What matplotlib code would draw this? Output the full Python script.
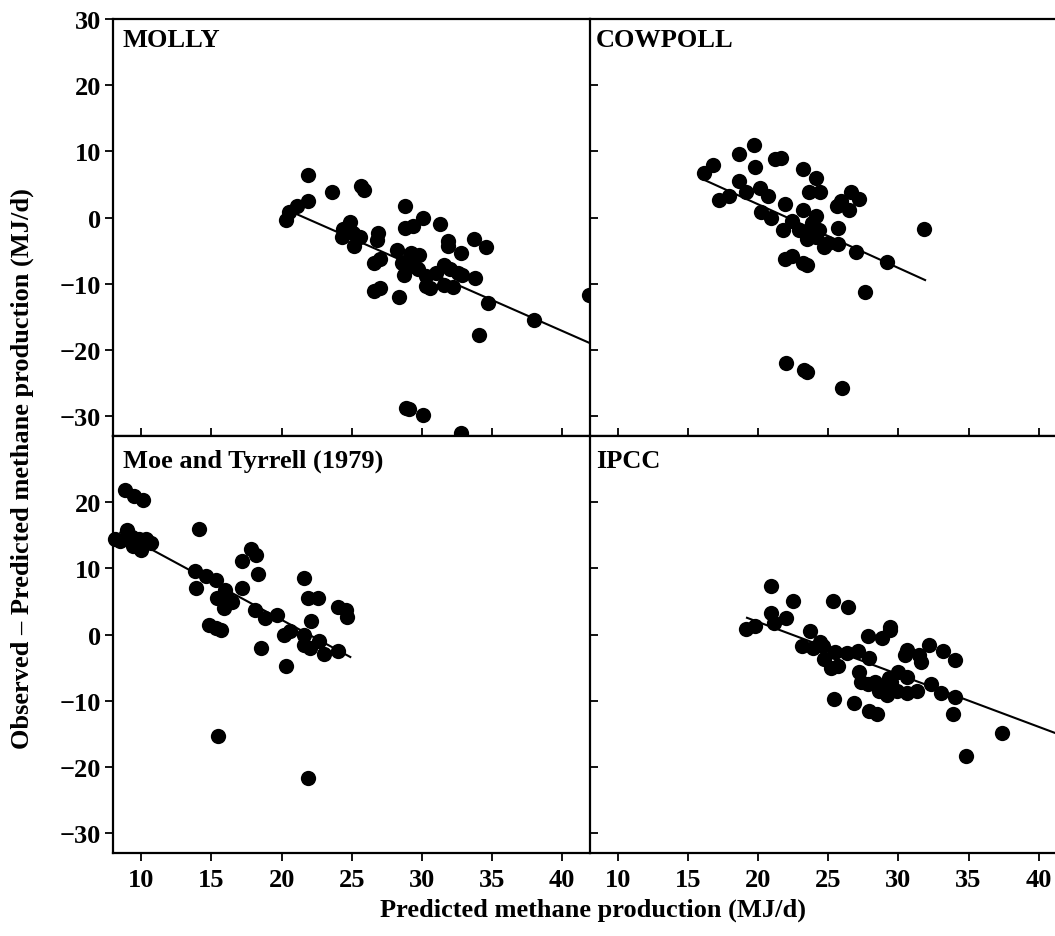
import numpy as np
import matplotlib
matplotlib.use("Agg")
import matplotlib.pyplot as plt

plt.rcParams['font.family'] = ['Liberation Serif', 'DejaVu Serif']
plt.rcParams['font.weight'] = 'bold'
plt.rcParams['font.size'] = 19

# MOLLY
molly_x = [20.3, 20.5, 21.1, 21.9, 21.9, 23.6, 25.7, 25.9, 24.4, 24.9, 24.3, 25.1, 25.6, 25.2,
           26.9, 26.8, 28.8, 28.8, 29.4, 30.1, 31.3, 31.9, 31.9, 32.8, 33.7, 34.6, 28.2, 29.2,
           29.8, 26.6, 27.0, 28.6, 28.7, 29.4, 29.7, 29.1, 30.3, 31.0, 31.6, 32.0, 32.6, 32.9,
           33.8, 30.3, 30.6, 31.6, 32.2, 26.6, 27.0, 28.4, 34.7, 38.0, 41.9, 34.1, 28.9, 29.1,
           30.1, 32.8]
molly_y = [-0.4, 0.8, 1.7, 6.4, 2.5, 3.9, 4.8, 4.2, -1.7, -0.7, -3.0, -2.3, -2.9, -4.3,
           -2.3, -3.4, 1.7, -1.5, -1.2, 0.0, -0.9, -3.5, -4.3, -5.4, -3.2, -4.4, -4.9, -5.3,
           -5.7, -6.8, -6.2, -6.8, -8.6, -7.3, -7.8, -6.3, -8.8, -8.3, -7.1, -7.7, -8.3, -8.7,
           -9.2, -10.3, -10.7, -10.2, -10.5, -11.1, -10.6, -12.0, -12.9, -15.5, -11.7, -17.7,
           -28.7, -28.9, -29.9, -32.6]
molly_fit = (20.17, -0.932, 21.0, 42.0)  # intercept, slope, x from, x to

# COWPOLL
cowpoll_x = [16.1, 16.8, 17.2, 17.9, 18.6, 18.6, 19.1, 19.7, 19.8, 20.1, 20.7, 20.2, 20.9,
             21.2, 21.6, 21.9, 21.8, 22.4, 23.2, 23.2, 23.6, 24.1, 24.4, 24.1, 23.4, 23.5,
             24.1, 24.3, 24.7, 25.0, 25.7, 25.6, 25.9, 26.5, 25.7, 26.6, 27.2, 21.9, 22.4,
             23.2, 23.5, 27.0, 29.2, 27.6, 31.8, 22.0, 23.3, 23.5, 26.0, 22.9, 23.8]
cowpoll_y = [6.7, 7.9, 2.7, 3.2, 9.6, 5.5, 3.9, 10.9, 7.6, 4.4, 3.2, 0.8, 0.0,
             8.9, 9.0, 2.1, -1.8, -0.5, 7.4, 1.2, 3.8, 6.0, 3.9, 0.2, -2.3, -3.2,
             -3.0, -1.8, -4.5, -3.8, -4.0, 1.7, 2.5, 1.1, -1.5, 3.9, 2.8, -6.2, -5.8,
             -6.8, -7.2, -5.2, -6.7, -11.2, -1.7, -21.9, -23.1, -23.4, -25.8, -1.8, -0.8]
cowpoll_fit = (21.22, -0.961, 16.1, 31.9)

# Moe and Tyrrell (1979)
moe_x = [8.1, 8.5, 8.8, 9.5, 10.1, 9.0, 9.3, 9.4, 9.8, 10.0, 10.3, 10.7, 14.1, 13.8, 13.9,
         14.6, 15.3, 16.0, 15.4, 15.9, 16.5, 16.1, 17.2, 17.2, 17.8, 18.2, 18.3, 18.1, 18.8,
         19.7, 14.8, 15.3, 15.7, 18.5, 20.2, 20.6, 20.3, 21.6, 21.9, 22.6, 22.1, 21.6, 21.6,
         22.0, 22.7, 23.0, 24.0, 24.6, 24.7, 24.0, 15.5, 21.9]
moe_y = [14.5, 14.1, 21.8, 21.0, 20.3, 15.8, 14.8, 13.4, 14.5, 12.8, 14.4, 13.9, 16.0, 9.6, 7.0,
         8.9, 8.2, 6.7, 5.5, 4.0, 4.9, 5.5, 11.1, 7.0, 12.9, 12.0, 9.1, 3.7, 2.5,
         2.9, 1.5, 1.0, 0.7, -2.0, -0.1, 0.5, -4.7, 8.5, 5.5, 5.6, 2.0, 0.0, -1.6,
         -2.0, -1.0, -3.0, 4.2, 3.7, 2.7, -2.5, -15.3, -21.6]
moe_fit = (25.15, -1.146, 8.5, 24.9)

# IPCC
ipcc_x = [19.1, 19.8, 20.9, 20.9, 21.1, 22.0, 22.5, 23.7, 23.1, 23.9, 24.4, 24.6, 24.7, 25.3,
          26.4, 25.2, 25.7, 25.5, 26.3, 27.1, 27.8, 27.9, 27.2, 27.3, 27.8, 28.3, 28.8, 29.4,
          29.4, 28.6, 29.0, 29.2, 29.3, 30.0, 29.9, 30.6, 30.6, 30.6, 30.5, 31.5, 31.6, 31.3,
          32.2, 32.3, 33.0, 33.2, 34.0, 34.0, 33.9, 25.4, 26.8, 27.9, 28.5, 37.4, 34.8, 29.5,
          28.5]
ipcc_y = [0.9, 1.3, 7.4, 3.3, 1.8, 2.5, 5.1, 0.5, -1.8, -2.1, -1.1, -1.8, -3.7, 5.0,
          4.2, -5.1, -4.7, -2.6, -2.8, -2.5, -0.2, -3.6, -5.6, -7.1, -7.5, -7.1, -0.5, 1.2,
          0.7, -8.6, -8.1, -9.1, -6.6, -5.6, -8.6, -6.4, -8.9, -2.3, -3.1, -3.1, -4.1, -8.5,
          -1.6, -7.5, -8.9, -2.5, -3.8, -9.4, -12.0, -9.7, -10.4, -11.5, -12.0, -14.8, -18.3,
          -7.1, -7.6]
ipcc_fit = (17.74, -0.792, 19.2, 42.0)

x_ticks = [10, 15, 20, 25, 30, 35, 40]

fig = plt.figure(figsize=(10.55, 9.37), dpi=100)

col_left = [0.1074, 0.5592]
col_w = 0.4519
row_bottom = [0.5336, 0.0886]
row_h = 0.4450

panels = [
    ("MOLLY", molly_x, molly_y, molly_fit, 0, 0),
    ("COWPOLL", cowpoll_x, cowpoll_y, cowpoll_fit, 0, 1),
    ("Moe and Tyrrell (1979)", moe_x, moe_y, moe_fit, 1, 0),
    ("IPCC", ipcc_x, ipcc_y, ipcc_fit, 1, 1),
]

for title, xs, ys, fit, r, c in panels:
    ax = fig.add_axes([col_left[c], row_bottom[r], col_w, row_h])
    b0, b1, xa, xb = fit
    fx = np.array([xa, xb])
    ax.plot(fx, b0 + b1 * fx, color='black', lw=1.5, zorder=2)
    ax.plot(xs, ys, 'o', color='black', ms=11, mew=0, clip_on=False, zorder=3)
    ax.set_xlim(8, 42)
    ax.set_ylim(-33, 30)
    ax.set_xticks(x_ticks)
    if r == 0:
        ax.set_yticks([-30, -20, -10, 0, 10, 20, 30])
    else:
        ax.set_yticks([-30, -20, -10, 0, 10, 20])
    for s in ax.spines.values():
        s.set_linewidth(1.6)
    ax.spines['right'].set_visible(False)
    ax.tick_params(axis='both', length=6, width=1.3, labelsize=19)
    ax.tick_params(axis='x', direction='in' if r == 0 else 'out',
                   labelbottom=(r == 1), pad=5)
    ax.tick_params(axis='y', direction='out' if c == 0 else 'in',
                   labelleft=(c == 0), pad=3)
    for lab in ax.get_xticklabels() + ax.get_yticklabels():
        lab.set_fontweight('bold')
    dy = 0.022 if r == 0 else 0.03
    ax.text(0.02 if c == 0 else 0.013, 1 - dy, title, transform=ax.transAxes,
            ha='left', va='top', fontsize=19, fontweight='bold')

fig.text(0.562, 0.028, "Predicted methane production (MJ/d)", ha='center', va='center',
         fontsize=19, fontweight='bold')
fig.text(0.021, 0.5, "Observed \u2013 Predicted methane production (MJ/d)", ha='center',
         va='center', rotation=90, fontsize=19, fontweight='bold')

fig.savefig("out.png", dpi=100)
